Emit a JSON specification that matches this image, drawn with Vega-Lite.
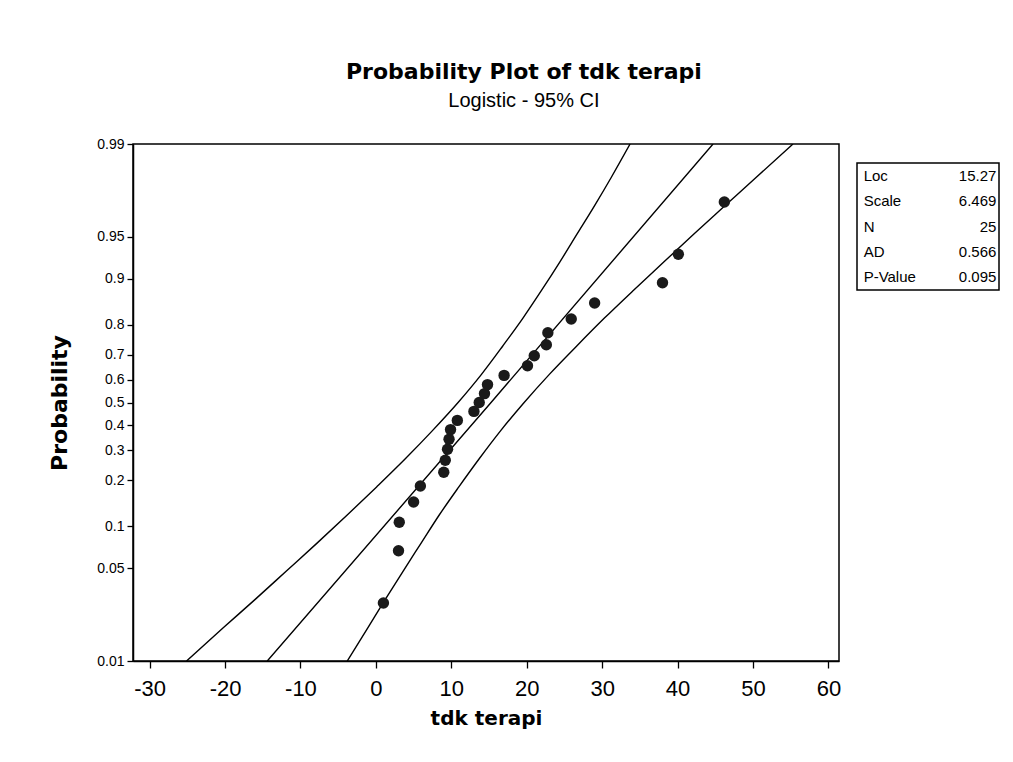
{
  "$schema": "https://vega.github.io/schema/vega-lite/v6.json",
  "background": "white",
  "padding": {"left": 48, "top": 61, "right": 5, "bottom": 5},
  "title": {
    "text": "Probability Plot of tdk terapi",
    "subtitle": "Logistic - 95% CI",
    "anchor": "middle",
    "font": "DejaVu Sans",
    "fontSize": 22,
    "fontWeight": "bold",
    "color": "black",
    "subtitleFont": "Liberation Sans",
    "subtitleFontSize": 20,
    "subtitleColor": "black",
    "subtitlePadding": 7,
    "offset": 24
  },
  "datasets": {
    "points": [
      {"x": 1.0, "p": 0.0276, "z": -3.564},
      {"x": 3.0, "p": 0.0669, "z": -2.635},
      {"x": 3.1, "p": 0.1063, "z": -2.129},
      {"x": 5.0, "p": 0.1457, "z": -1.769},
      {"x": 5.9, "p": 0.1850, "z": -1.483},
      {"x": 9.0, "p": 0.2244, "z": -1.240},
      {"x": 9.2, "p": 0.2638, "z": -1.026},
      {"x": 9.5, "p": 0.3031, "z": -0.832},
      {"x": 9.7, "p": 0.3425, "z": -0.652},
      {"x": 9.9, "p": 0.3819, "z": -0.482},
      {"x": 10.8, "p": 0.4213, "z": -0.318},
      {"x": 13.0, "p": 0.4606, "z": -0.158},
      {"x": 13.7, "p": 0.5000, "z": 0.0},
      {"x": 14.4, "p": 0.5394, "z": 0.158},
      {"x": 14.8, "p": 0.5787, "z": 0.318},
      {"x": 17.0, "p": 0.6181, "z": 0.482},
      {"x": 20.1, "p": 0.6575, "z": 0.652},
      {"x": 21.0, "p": 0.6969, "z": 0.832},
      {"x": 22.6, "p": 0.7362, "z": 1.026},
      {"x": 22.8, "p": 0.7756, "z": 1.240},
      {"x": 25.9, "p": 0.8150, "z": 1.483},
      {"x": 29.0, "p": 0.8543, "z": 1.769},
      {"x": 38.0, "p": 0.8937, "z": 2.129},
      {"x": 40.1, "p": 0.9331, "z": 2.635},
      {"x": 46.2, "p": 0.9724, "z": 3.564}
    ],
    "curves": [
      {"curve": "upper", "x": -25.1, "z": -4.59512},
      {"curve": "upper", "x": -20.2, "z": -4.0},
      {"curve": "upper", "x": -16.0, "z": -3.5},
      {"curve": "upper", "x": -11.9, "z": -3.0},
      {"curve": "upper", "x": -7.8, "z": -2.5},
      {"curve": "upper", "x": -3.8, "z": -2.0},
      {"curve": "upper", "x": 0.1, "z": -1.5},
      {"curve": "upper", "x": 3.9, "z": -1.0},
      {"curve": "upper", "x": 7.5, "z": -0.5},
      {"curve": "upper", "x": 10.9, "z": 0.0},
      {"curve": "upper", "x": 14.0, "z": 0.5},
      {"curve": "upper", "x": 16.8, "z": 1.0},
      {"curve": "upper", "x": 19.5, "z": 1.5},
      {"curve": "upper", "x": 22.0, "z": 2.0},
      {"curve": "upper", "x": 24.4, "z": 2.5},
      {"curve": "upper", "x": 26.7, "z": 3.0},
      {"curve": "upper", "x": 29.0, "z": 3.5},
      {"curve": "upper", "x": 31.2, "z": 4.0},
      {"curve": "upper", "x": 33.7, "z": 4.59512},
      {"curve": "fit", "x": -14.4, "z": -4.59512},
      {"curve": "fit", "x": 15.27, "z": 0.0},
      {"curve": "fit", "x": 44.7, "z": 4.59512},
      {"curve": "lower", "x": -3.8, "z": -4.59512},
      {"curve": "lower", "x": -1.05, "z": -4.0},
      {"curve": "lower", "x": 1.25, "z": -3.5},
      {"curve": "lower", "x": 3.6, "z": -3.0},
      {"curve": "lower", "x": 6.0, "z": -2.5},
      {"curve": "lower", "x": 8.4, "z": -2.0},
      {"curve": "lower", "x": 11.0, "z": -1.5},
      {"curve": "lower", "x": 13.7, "z": -1.0},
      {"curve": "lower", "x": 16.55, "z": -0.5},
      {"curve": "lower", "x": 19.66, "z": 0.0},
      {"curve": "lower", "x": 23.0, "z": 0.5},
      {"curve": "lower", "x": 26.6, "z": 1.0},
      {"curve": "lower", "x": 30.3, "z": 1.5},
      {"curve": "lower", "x": 34.2, "z": 2.0},
      {"curve": "lower", "x": 38.2, "z": 2.5},
      {"curve": "lower", "x": 42.2, "z": 3.0},
      {"curve": "lower", "x": 46.3, "z": 3.5},
      {"curve": "lower", "x": 50.4, "z": 4.0},
      {"curve": "lower", "x": 55.3, "z": 4.59512}
    ],
    "stats": [
      {"stat": "Loc", "value": "15.27"},
      {"stat": "Scale", "value": "6.469"},
      {"stat": "N", "value": "25"},
      {"stat": "AD", "value": "0.566"},
      {"stat": "P-Value", "value": "0.095"}
    ]
  },
  "spacing": 14,
  "hconcat": [
    {
      "width": 706,
      "height": 517,
      "encoding": {
        "x": {
          "field": "x",
          "type": "quantitative",
          "scale": {"domain": [-32.2, 61.4], "nice": false, "zero": false},
          "axis": {
            "values": [-30, -20, -10, 0, 10, 20, 30, 40, 50, 60],
            "labelExpr": "'' + datum.value",
            "title": "tdk terapi",
            "grid": false,
            "tickSize": 7,
            "labelFontSize": 22,
            "labelPadding": 10,
            "titleFontSize": 20,
            "titlePadding": 9
          }
        },
        "y": {
          "field": "z",
          "type": "quantitative",
          "scale": {"domain": [-4.59512, 4.59512], "nice": false, "zero": false},
          "axis": {
            "values": [-4.59512, -2.94444, -2.19722, -1.38629, -0.8473, -0.40547, 0, 0.40547, 0.8473, 1.38629, 2.19722, 2.94444, 4.59512],
            "labelExpr": "format(1 / (1 + exp(-datum.value)), '.2~f')",
            "title": "Probability",
            "grid": false,
            "tickSize": 6,
            "labelFontSize": 14,
            "labelPadding": 3,
            "titleFontSize": 22,
            "titlePadding": 25
          }
        }
      },
      "layer": [
        {
          "data": {"name": "curves"},
          "mark": {"type": "line", "color": "black", "strokeWidth": 1.4, "interpolate": "monotone", "clip": true},
          "encoding": {"detail": {"field": "curve", "type": "nominal"}}
        },
        {
          "data": {"name": "points"},
          "mark": {"type": "circle", "color": "#1a1a1a", "opacity": 1, "size": 130}
        }
      ]
    },
    {
      "spacing": 0,
      "vconcat": [
        {
          "width": 142,
          "height": 18,
          "view": {"stroke": null},
          "data": {"values": []},
          "mark": {"type": "point", "opacity": 0}
        },
        {
          "width": 142,
          "height": 127,
          "data": {"name": "stats"},
          "encoding": {
            "y": {"field": "stat", "type": "nominal", "sort": null, "axis": null}
          },
          "layer": [
            {
              "mark": {"type": "text", "align": "left", "font": "Liberation Sans", "fontSize": 15, "color": "black"},
              "encoding": {
                "x": {"datum": 0, "type": "quantitative", "scale": {"domain": [-0.05, 1.02], "nice": false, "zero": false}, "axis": null},
                "text": {"field": "stat"}
              }
            },
            {
              "mark": {"type": "text", "align": "right", "font": "Liberation Sans", "fontSize": 15, "color": "black"},
              "encoding": {
                "x": {"datum": 1, "type": "quantitative"},
                "text": {"field": "value"}
              }
            }
          ]
        }
      ]
    }
  ],
  "config": {
    "view": {"stroke": "black", "strokeWidth": 1.5},
    "axis": {
      "domainColor": "black",
      "domainWidth": 1.5,
      "tickColor": "black",
      "tickWidth": 1.3,
      "labelColor": "black",
      "labelFont": "Liberation Sans",
      "titleColor": "black",
      "titleFont": "DejaVu Sans",
      "titleFontWeight": "bold"
    }
  }
}
